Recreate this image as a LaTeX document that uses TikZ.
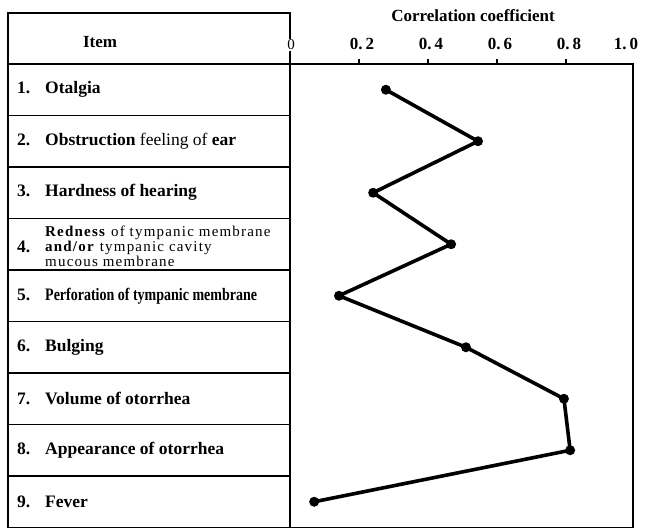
\documentclass[tikz,border=0pt]{standalone}
\usepackage{fontspec}
\setmainfont{Liberation Serif}
\usetikzlibrary{positioning}
\tikzset{
x=1pt, y=-1pt, % pixel-like coordinates, y down
frame/.style={line width=1.8pt}, % table and plot box
head/.style={font=\fontsize{17}{19}\selectfont\bfseries},
item/.style={anchor=west, inner sep=0pt, font=\fontsize{17.5}{19}\selectfont\bfseries},
small item/.style={anchor=west, inner sep=0pt, align=left, font=\fontsize{15}{15}\selectfont\addfontfeature{LetterSpace=8}},
dot/.style={circle, fill=black, inner sep=0pt, minimum size=10pt}, % data points
curve/.style={line width=3.6pt, line join=round},
}
\newcommand{\rowno}[1]{\makebox[28pt][l]{#1.}}

\begin{document}
\begin{tikzpicture}
    \useasboundingbox (0,0) rectangle (653,529);
    % item table
    \draw[frame] (8,13) rectangle (290,527.5);
    \foreach \k in {0,...,8}
        \draw[frame] (8,{64+\k*51.5}) -- (290,{64+\k*51.5});
    \node[head] (item) at (100,42) {Item};
    % plot box and axis
    \draw[frame] (290,64) rectangle (633,527.5);
    \foreach \v in {0.2,0.4,0.6,0.8}
        \draw[frame] ({290+\v*345},64) -- ++(0,-5);
    \node[head, fill=white, inner sep=1pt, font=\fontsize{15}{17}\selectfont] (zero) at (291,45) {0};
    \foreach \v/\t in {0.2/0.\,2, 0.4/0.\,4, 0.6/0.\,6, 0.8/0.\,8}
        \node[head] at ({293+\v*345},44) {\t};
    \node[head] (one) at (626,44) {1.\,0};
    \node[head] (title) at (473,16) {Correlation coefficient};
    % items
    \node[item] (i1) at (17,89.75) {\rowno{1}Otalgia};
    \node[item] (i2) at (17,141.25) {\rowno{2}Obstruction \mdseries feeling of \bfseries ear};
    \node[item] (i3) at (17,192.75) {\rowno{3}Hardness of hearing};
    \node[item] (i4) at (17,246.5) {\rowno{4}};
    \node[small item] (i4 text) at (45,246) {\textbf{Redness} of tympanic membrane\\ \textbf{and/or} tympanic cavity\\ mucous membrane};
    \node[item] (i5) at (17,295.75) {\rowno{5}\scalebox{0.8}[1]{Perforation of tympanic membrane}};
    \node[item] (i6) at (17,347.25) {\rowno{6}Bulging};
    \node[item] (i7) at (17,398.75) {\rowno{7}Volume of otorrhea};
    \node[item] (i8) at (17,450.25) {\rowno{8}Appearance of otorrhea};
    \node[item] (i9) at (17,501.75) {\rowno{9}Fever};
    % correlation points
    \node[dot] (p1) at ({290+0.278*345},89.75) {};
    \node[dot] (p2) at ({290+0.545*345},141.25) {};
    \node[dot] (p3) at ({290+0.241*345},192.75) {};
    \node[dot] (p4) at ({290+0.467*345},244.25) {};
    \node[dot] (p5) at ({290+0.142*345},295.75) {};
    \node[dot] (p6) at ({290+0.510*345},347.25) {};
    \node[dot] (p7) at ({290+0.794*345},398.75) {};
    \node[dot] (p8) at ({290+0.812*345},450.25) {};
    \node[dot] (p9) at ({290+0.070*345},501.75) {};
    \draw[curve] (p1.center) -- (p2.center) -- (p3.center) -- (p4.center) -- (p5.center)
        -- (p6.center) -- (p7.center) -- (p8.center) -- (p9.center);
\end{tikzpicture}
\end{document}
